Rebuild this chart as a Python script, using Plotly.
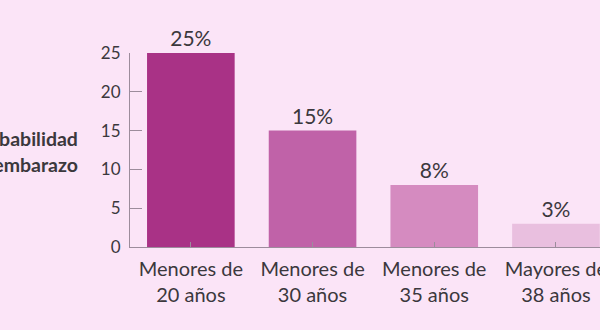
import plotly.graph_objects as go

categories = ["Menores de<br>20 años", "Menores de<br>30 años", "Menores de<br>35 años", "Mayores de<br>38 años"]
values = [25, 15, 8, 3]
labels = ["25%", "15%", "8%", "3%"]
bar_colors = ["#a93286", "#c062a8", "#d58bc0", "#e9bfdf"]
y_ticks = [0, 5, 10, 15, 20, 25]
y_title_lines = ["Probabilidad", "de embarazo"]

BG = "#fbe4f7"
TXT = "#3b383d"
AX = "#9c8c9c"
FONT = "Lato"

fig = go.Figure(go.Bar(
    x=list(range(len(categories))),
    y=values,
    marker=dict(color=bar_colors, line=dict(width=0)),
    text=labels,
    textposition="outside",
    textfont=dict(size=21, color=TXT, family=FONT),
    cliponaxis=False,
    hoverinfo="skip",
))

PLOT_H = 330 - 53 - 83
title_ann = []
for i, line in enumerate(y_title_lines):
    ypix = 138 + 26 * i
    title_ann.append(dict(
        text="<b>" + line + "</b>",
        xref="paper", yref="paper",
        x=(80 - 130) / 470, y=(330 - 83 - ypix) / PLOT_H,
        xanchor="right", yanchor="middle", align="right",
        showarrow=False,
        font=dict(size=19.5, color=TXT, family=FONT),
    ))

fig.update_layout(
    width=600, height=330,
    margin=dict(l=130, r=0, t=53, b=83),
    paper_bgcolor=BG, plot_bgcolor=BG,
    bargap=0.28,
    showlegend=False,
    font=dict(family=FONT, color=TXT),
    xaxis=dict(
        range=[-0.5, 3.362],
        tickmode="array",
        tickvals=list(range(len(categories))),
        ticktext=categories,
        tickson="boundaries",
        ticks="inside", ticklen=5, tickcolor=AX, tickwidth=1,
        showline=True, linecolor=AX, linewidth=1,
        showgrid=False, zeroline=False,
        tickfont=dict(size=20, color=TXT, family=FONT),
        ticklabeloverflow="allow",
        ticklabelstandoff=4,
        automargin=False,
    ),
    yaxis=dict(
        range=[0, 25],
        tickvals=y_ticks,
        ticks="inside", ticklen=12, tickcolor=AX, tickwidth=1,
        showline=True, linecolor=AX, linewidth=1,
        showgrid=False, zeroline=False,
        tickfont=dict(size=17, color=TXT, family=FONT),
        ticklabelstandoff=5,
        automargin=False,
    ),
    annotations=title_ann,
)

fig.write_html("out.html")
